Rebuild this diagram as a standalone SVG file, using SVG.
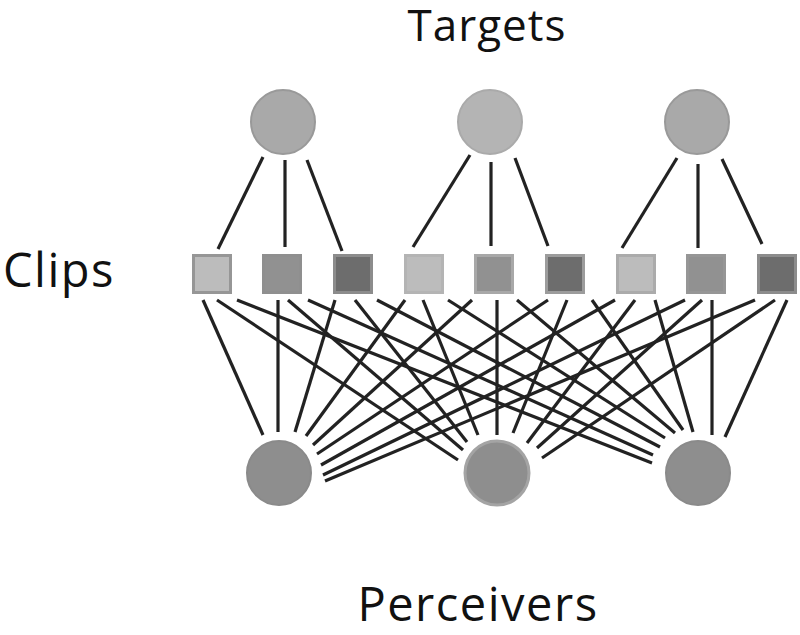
<svg xmlns="http://www.w3.org/2000/svg" width="800" height="635" viewBox="0 0 800 635">
<style>
.lbl{font-family:"Open Sans","Noto Sans",sans-serif;fill:#111}
.tgt{fill:#a9a9a9;stroke:#999;stroke-width:2}
.per{fill:#8e8e8e;stroke:#8a8a8a;stroke-width:2}
.lt{fill:#bcbcbc;stroke:#a0a0a0;stroke-width:3}
.md{fill:#919191;stroke:#9c9c9c;stroke-width:3}
.dk{fill:#6d6d6d;stroke:#8c8c8c;stroke-width:3}
#connectors line{stroke:#222;stroke-width:3.2;stroke-linecap:butt}
</style>
<rect width="800" height="635" fill="#fff"/>
<text class="lbl" x="487" y="41" text-anchor="middle" font-size="44" letter-spacing="1">Targets</text>
<text class="lbl" x="3" y="287" font-size="47" letter-spacing="1.5">Clips</text>
<text class="lbl" x="478" y="621" text-anchor="middle" font-size="47" letter-spacing="1.5">Perceivers</text>
<g id="connectors">
<line x1="263" y1="157" x2="218" y2="249"/>
<line x1="285" y1="160" x2="285" y2="247"/>
<line x1="307" y1="160" x2="342" y2="251"/>
<line x1="470" y1="155" x2="413" y2="247"/>
<line x1="491" y1="162" x2="491" y2="246"/>
<line x1="515" y1="158" x2="548" y2="246"/>
<line x1="677" y1="158" x2="622" y2="248"/>
<line x1="698" y1="164" x2="698" y2="248"/>
<line x1="722" y1="159" x2="762" y2="244"/>
<line x1="203" y1="300" x2="263" y2="435"/>
<line x1="217" y1="300" x2="458" y2="460"/>
<line x1="237" y1="300" x2="652" y2="463"/>
<line x1="278" y1="300" x2="278" y2="432"/>
<line x1="288" y1="300" x2="463" y2="450"/>
<line x1="308" y1="300" x2="653" y2="455"/>
<line x1="335" y1="300" x2="295" y2="432"/>
<line x1="355" y1="300" x2="467" y2="442"/>
<line x1="377" y1="300" x2="660" y2="447"/>
<line x1="405" y1="300" x2="306" y2="436"/>
<line x1="423" y1="300" x2="478" y2="435"/>
<line x1="448" y1="300" x2="665" y2="438"/>
<line x1="472" y1="300" x2="313" y2="445"/>
<line x1="497" y1="300" x2="497" y2="435"/>
<line x1="517" y1="300" x2="675" y2="433"/>
<line x1="548" y1="300" x2="317" y2="454"/>
<line x1="567" y1="300" x2="513" y2="433"/>
<line x1="592" y1="300" x2="683" y2="430"/>
<line x1="615" y1="300" x2="321" y2="465"/>
<line x1="635" y1="300" x2="527" y2="443"/>
<line x1="655" y1="300" x2="693" y2="432"/>
<line x1="685" y1="300" x2="323" y2="475"/>
<line x1="702" y1="300" x2="537" y2="448"/>
<line x1="712" y1="300" x2="712" y2="435"/>
<line x1="755" y1="300" x2="325" y2="481"/>
<line x1="775" y1="300" x2="542" y2="458"/>
<line x1="787" y1="300" x2="725" y2="437"/>
</g>
<g id="target1"><circle class="tgt" cx="283" cy="122" r="32"/></g>
<g id="target2"><circle class="tgt" cx="490" cy="122" r="32" style="fill:#b4b4b4;stroke:#aaa"/></g>
<g id="target3"><circle class="tgt" cx="697" cy="122" r="32"/></g>
<g id="clip1"><rect class="lt" x="193.5" y="255.5" width="37" height="37" style="stroke:#969696"/></g>
<g id="clip2"><rect class="md" x="263.5" y="255.5" width="37" height="37" style="stroke:#8f8f8f"/></g>
<g id="clip3"><rect class="dk" x="334.5" y="255.5" width="37" height="37"/></g>
<g id="clip4"><rect class="lt" x="405.5" y="255.5" width="37" height="37" style="stroke:#b4b4b4"/></g>
<g id="clip5"><rect class="md" x="475.5" y="255.5" width="37" height="37" style="stroke:#a8a8a8"/></g>
<g id="clip6"><rect class="dk" x="546.5" y="255.5" width="37" height="37" style="stroke:#9c9c9c"/></g>
<g id="clip7"><rect class="lt" x="617.5" y="255.5" width="37" height="37" style="stroke:#ababab"/></g>
<g id="clip8"><rect class="md" x="687.5" y="255.5" width="37" height="37" style="stroke:#969696"/></g>
<g id="clip9"><rect class="dk" x="758.5" y="255.5" width="37" height="37"/></g>
<g id="perceiver1"><circle class="per" cx="279" cy="473" r="32"/></g>
<g id="perceiver2"><circle class="per" cx="497" cy="473" r="32" style="stroke:#a4a4a4;stroke-width:3"/></g>
<g id="perceiver3"><circle class="per" cx="698" cy="473" r="32"/></g>
</svg>
